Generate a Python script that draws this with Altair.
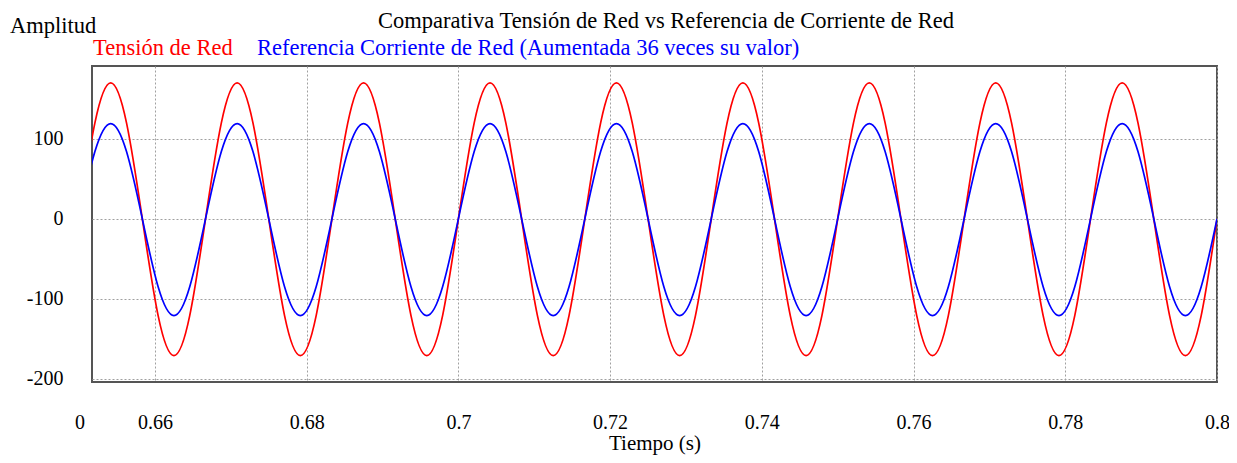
import altair as alt
import pandas as pd

# Time samples (s), eight per 60 Hz cycle
tiempo = [
    0.65, 0.652083, 0.654167, 0.65625, 0.658333, 0.660417, 0.6625, 0.664583,
    0.666667, 0.66875, 0.670833, 0.672917, 0.675, 0.677083, 0.679167, 0.68125,
    0.683333, 0.685417, 0.6875, 0.689583, 0.691667, 0.69375, 0.695833, 0.697917,
    0.7, 0.702083, 0.704167, 0.70625, 0.708333, 0.710417, 0.7125, 0.714583,
    0.716667, 0.71875, 0.720833, 0.722917, 0.725, 0.727083, 0.729167, 0.73125,
    0.733333, 0.735417, 0.7375, 0.739583, 0.741667, 0.74375, 0.745833, 0.747917,
    0.75, 0.752083, 0.754167, 0.75625, 0.758333, 0.760417, 0.7625, 0.764583,
    0.766667, 0.76875, 0.770833, 0.772917, 0.775, 0.777083, 0.779167, 0.78125,
    0.783333, 0.785417, 0.7875, 0.789583, 0.791667, 0.79375, 0.795833, 0.797917,
    0.8,
]

tension_red = [
    0, 120, 170, 120, 0, -121, -171, -121,
    0, 120, 170, 120, 0, -121, -171, -121,
    0, 120, 170, 120, 0, -121, -171, -121,
    0, 120, 170, 120, 0, -121, -171, -121,
    0, 120, 170, 120, 0, -121, -171, -121,
    0, 120, 170, 120, 0, -121, -171, -121,
    0, 120, 170, 120, 0, -121, -171, -121,
    0, 120, 170, 120, 0, -121, -171, -121,
    0, 120, 170, 120, 0, -121, -171, -121,
    0,
]

ref_corriente = [
    0, 84, 119, 84, 0, -85, -121, -85,
    0, 84, 119, 84, 0, -85, -121, -85,
    0, 84, 119, 84, 0, -85, -121, -85,
    0, 84, 119, 84, 0, -85, -121, -85,
    0, 84, 119, 84, 0, -85, -121, -85,
    0, 84, 119, 84, 0, -85, -121, -85,
    0, 84, 119, 84, 0, -85, -121, -85,
    0, 84, 119, 84, 0, -85, -121, -85,
    0, 84, 119, 84, 0, -85, -121, -85,
    0,
]

x_ticks = [0.66, 0.68, 0.7, 0.72, 0.74, 0.76, 0.78, 0.8]
y_ticks = [-200, -100, 0, 100]

FONT = "Liberation Serif"
W, H = 1125, 316

df_v = pd.DataFrame({"t": tiempo, "v": tension_red})
df_i = pd.DataFrame({"t": tiempo, "v": ref_corriente})

x_enc = alt.X(
    "t:Q",
    scale=alt.Scale(domain=[0.6517, 0.8], nice=False, zero=False),
    axis=alt.Axis(
        values=x_ticks, format="~g", title=None, ticks=False, domain=False,
        labelPadding=30, labelFontSize=20, labelFont=FONT, labelColor="black",
        grid=True, gridColor="#a0a0a0", gridDash=[2, 2], gridWidth=1,
        labelFlush=False,
    ),
)
y_enc = alt.Y(
    "v:Q",
    scale=alt.Scale(domain=[-204, 191], nice=False, zero=False),
    axis=alt.Axis(
        values=y_ticks, labelExpr="'' + datum.value", title=None, ticks=False,
        domain=False, labelPadding=29, labelFontSize=20, labelFont=FONT,
        labelColor="black", grid=True, gridColor="#a0a0a0", gridDash=[2, 2],
        gridWidth=1,
    ),
)

red_line = alt.Chart(df_v).mark_line(
    color="#ff0000", strokeWidth=1.7, interpolate="natural", clip=True
).encode(x=x_enc, y=y_enc)

blue_line = alt.Chart(df_i).mark_line(
    color="#0000ff", strokeWidth=1.7, interpolate="natural", clip=True
).encode(x="t:Q", y="v:Q")

def label(text, x, y, color="black", align="left", size=22.5):
    return alt.Chart(pd.DataFrame({"s": [text]})).mark_text(
        align=align, baseline="alphabetic", font=FONT, fontSize=size, color=color
    ).encode(x=alt.value(x), y=alt.value(y), text="s:N")

title = label("Comparativa Tensión de Red vs Referencia de Corriente de Red", 574, -38, align="center")
amp = label("Amplitud", -82, -33)
leg1 = label("Tensión de Red", 1, -11, color="#ff0000")
leg2 = label("Referencia Corriente de Red (Aumentada 36 veces su valor)", 165, -11, color="#0000ff")
zero = label("0", -12, 363, align="center", size=20)
xtitle = label("Tiempo (s)", 563, 384, align="center", size=21)

chart = alt.layer(red_line, blue_line, title, amp, leg1, leg2, zero, xtitle).properties(
    width=W, height=H,
    background="white",
    autosize=alt.AutoSizeParams(type="none"),
    padding={"left": 84, "top": 58, "right": 12, "bottom": 73},
).configure_view(
    stroke="#555555", strokeWidth=2
)

chart.save("out.html", embed_options={"renderer": "svg", "actions": False})
